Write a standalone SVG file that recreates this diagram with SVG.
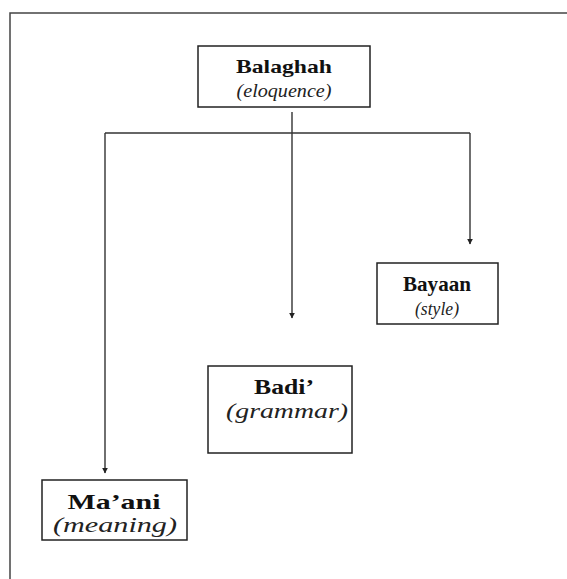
<svg xmlns="http://www.w3.org/2000/svg" width="567" height="579" viewBox="0 0 567 579">
<defs>
<style>
.box{fill:#fff;stroke:#222;stroke-width:1.5}
.ln{fill:none;stroke:#333;stroke-width:1.4}
.t1{font-family:"Liberation Serif",serif;font-weight:bold;font-size:19px;fill:#111;text-anchor:middle}
.t2{font-family:"Liberation Serif",serif;font-style:italic;font-size:19px;fill:#222;text-anchor:middle}
.big{font-size:21px}
</style>
<marker id="ah" viewBox="0 0 10 10" refX="9" refY="5" markerWidth="6" markerHeight="6" orient="auto" markerUnits="userSpaceOnUse">
<path d="M0,0 L10,5 L0,10 z" fill="#222"/>
</marker>
</defs>
<rect width="567" height="579" fill="#fff"/>
<path d="M10,579 V13 H567" fill="none" stroke="#444" stroke-width="1.5"/>
<g id="connectors">
<path class="ln" d="M292,112 V318" marker-end="url(#ah)"/>
<path class="ln" d="M105,133 H470"/>
<path class="ln" d="M105,133 V473" marker-end="url(#ah)"/>
<path class="ln" d="M470,133 V244" marker-end="url(#ah)"/>
</g>
<g id="balaghah">
<rect class="box" x="198" y="46" width="172" height="61"/>
<text class="t1" x="284" y="73" textLength="96" lengthAdjust="spacingAndGlyphs">Balaghah</text>
<text class="t2" x="284" y="97" textLength="95" lengthAdjust="spacingAndGlyphs">(eloquence)</text>
</g>
<g id="bayaan">
<rect class="box" x="377" y="263" width="121" height="61"/>
<text class="t1 big" x="437" y="291" textLength="68" lengthAdjust="spacingAndGlyphs">Bayaan</text>
<text class="t2" x="437" y="315" textLength="44" lengthAdjust="spacingAndGlyphs">(style)</text>
</g>
<g id="badi">
<rect class="box" x="208" y="366" width="144" height="87"/>
<text class="t1 big" x="284" y="394" textLength="60" lengthAdjust="spacingAndGlyphs">Badi’</text>
<text class="t2 big" x="287" y="418" textLength="122" lengthAdjust="spacingAndGlyphs">(grammar)</text>
</g>
<g id="maani">
<rect class="box" x="42" y="480" width="145" height="60"/>
<text class="t1 big" x="114" y="509" textLength="93" lengthAdjust="spacingAndGlyphs">Ma’ani</text>
<text class="t2 big" x="115" y="532" textLength="124" lengthAdjust="spacingAndGlyphs">(meaning)</text>
</g>
</svg>
